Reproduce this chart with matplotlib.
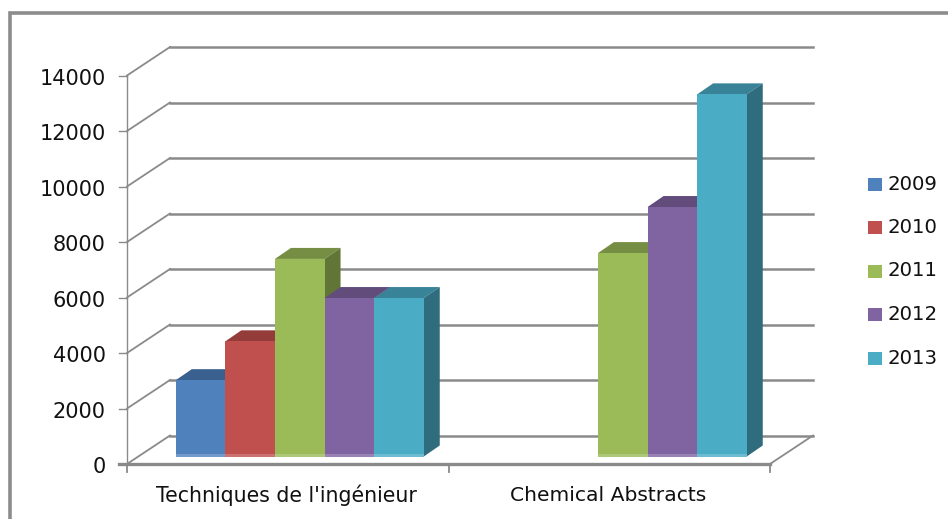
import matplotlib
matplotlib.use("Agg")
import matplotlib.pyplot as plt
from matplotlib.patches import Polygon, Rectangle

W, H = 948, 519
categories = ["Techniques de l'ingénieur", "Chemical Abstracts"]
years = ["2009", "2010", "2011", "2012", "2013"]
v2009 = [2750, None]
v2010 = [4150, None]
v2011 = [7120, 7330]
v2012 = [5710, 8990]
v2013 = [5710, 13050]
series = [v2009, v2010, v2011, v2012, v2013]
front = ["#4F81BD", "#C0504D", "#9BBB59", "#8064A2", "#4BACC6"]
topc = ["#3A6090", "#943C3A", "#768E43", "#614C7C", "#398398"]
side = ["#2F4F77", "#7A3130", "#617537", "#503F66", "#2F6C7D"]
yticks = [0, 2000, 4000, 6000, 8000, 10000, 12000, 14000]

PX0, PX1 = 127, 770
PY0, PY14 = 464, 75.5
fig = plt.figure(figsize=(W/100, H/100), dpi=100)
ax = fig.add_axes([PX0/W, 1-PY0/H, (PX1-PX0)/W, (PY0-PY14)/H])
ax.set_xlim(0, 2)
ax.set_ylim(0, 14000)
ax.axis("off")

ux = 2/(PX1-PX0)          # data units per pixel
uy = 14000/(PY0-PY14)
depth_x, depth_y = 43*ux, 28.5*uy
bar_w = 49.6*ux
bar_dx = [12*ux, 13.5*ux]          # bar base offset inside floor
bar_dy = 7.5*uy
bd_x, bd_y = 16*ux, 11*uy          # bar depth

GR = "#8A8A8A"
kw = dict(clip_on=False)
for t in yticks:
    ax.plot([0, depth_x], [t, t+depth_y], color=GR, lw=1.3, zorder=1, **kw)
    ax.plot([depth_x, 2+depth_x], [t+depth_y, t+depth_y], color=GR, lw=1.8, zorder=1, **kw)
    ax.plot([-8*ux, 0], [t, t], color=GR, lw=1, zorder=1, **kw)
    ax.text(-21.5*ux, t-3.2*uy, f"{t}", ha="right", va="center", fontsize=15, color="#111111",
            family="DejaVu Sans", clip_on=False)
ax.plot([0, 0], [0, 14000], color=GR, lw=1, zorder=1, **kw)
ax.plot([2, 2+depth_x], [0, depth_y], color=GR, lw=1.3, zorder=1, **kw)
ax.plot([-8*ux, 2], [0, 0], color=GR, lw=2.4, zorder=2, **kw)
for x in (0, 1, 2):
    ax.plot([x, x], [0, -8*uy], color=GR, lw=1.3, zorder=2, **kw)

for ci in range(2):
    group_left = ci + 0.5 - 2.5*bar_w
    for si, vals in enumerate(series):
        v = vals[ci]
        if v is None:
            continue
        x0 = group_left + si*bar_w + bar_dx[ci]
        x1 = x0 + bar_w
        y0 = bar_dy
        y1 = v + bar_dy
        z = 5 + si
        ax.add_patch(Polygon([(x0, y1), (x1, y1), (x1+bd_x, y1+bd_y), (x0+bd_x, y1+bd_y)],
                             fc=topc[si], ec="none", zorder=z, **kw))
        ax.add_patch(Polygon([(x1, y0), (x1+bd_x, y0+bd_y), (x1+bd_x, y1+bd_y), (x1, y1)],
                             fc=side[si], ec="none", zorder=z, **kw))
        ax.add_patch(Rectangle((x0, y0), bar_w, y1-y0, fc=front[si], ec="none", zorder=z+0.5, **kw))
        ax.add_patch(Rectangle((x0, y0), bar_w, 2.5*uy, fc="white", ec="none", alpha=0.2, zorder=z+0.7, **kw))

label_x = [286.5, 608.5]
for i, c in enumerate(categories):
    ax.text((label_x[i]-PX0)*ux, -31.5*uy, c, ha="center", va="center",
            fontsize=14.8 if i == 0 else 14.6, color="#111111",
            family="DejaVu Sans", clip_on=False)

ov = fig.add_axes([0, 0, 1, 1], zorder=-1)
ov.set_xlim(0, W)
ov.set_ylim(H, 0)
ov.axis("off")
ov.plot([10.5, 10.5, W], [H, 12.5, 12.5], color="#8C8C8C", lw=2.6, solid_joinstyle="miter")
for i, (yr, c) in enumerate(zip(years, front)):
    y = 184 + i*43.5
    ov.add_patch(Rectangle((868, y-6.5), 14, 13, fc=c, ec="none"))
    ov.text(888, y, yr, ha="left", va="center", fontsize=14.2, color="#111111", family="DejaVu Sans")

fig.savefig("out.png", dpi=100)
